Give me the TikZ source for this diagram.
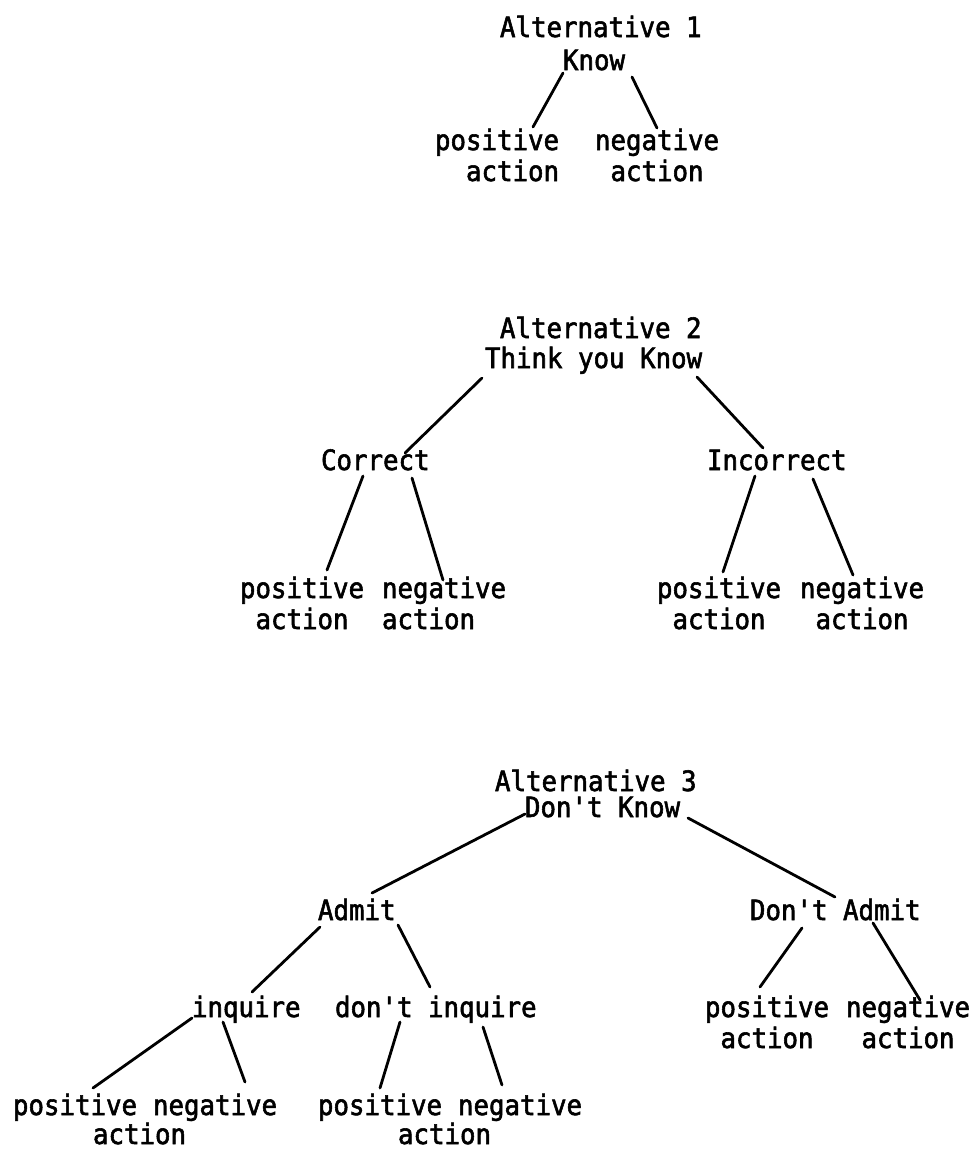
\documentclass[tikz,border=0pt]{standalone}
\usepackage{fontspec}
\newfontfamily\tw[FakeStretch=0.92,FakeBold=2]{DejaVu Sans Mono}
\begin{document}
\begin{tikzpicture}[x=1pt,y=-1pt,
  txt/.style={inner sep=0pt,outer sep=0pt,anchor=base west,align=left,
    font=\tw\fontsize{28}{31}\selectfont},
  edge/.style={line width=2.8pt,line cap=round}]
\useasboundingbox (0,0) rectangle (977,1149);
% ---------- Alternative 1
\node[txt] (alt1) at (500,37) {Alternative 1};
\node[txt] (know) at (563,70) {Know};
% two-line leaves: base anchor is the baseline of the second line
\node[txt] (p1) at (435,181) {positive\\\hphantom{xx}action};
\node[txt] (n1) at (595,181) {negative\\\hphantom{x}action};
\draw[edge] ([shift={(0,3)}]know.base west) -- ([shift={(98,-54)}]p1.base west);
\draw[edge] ([shift={(69,7)}]know.base west) -- ([shift={(62,-53)}]n1.base west);
% ---------- Alternative 2
\node[txt] (alt2) at (500,338) {Alternative 2};
\node[txt] (think) at (485,368) {Think you Know};
\node[txt] (correct) at (321,470) {Correct};
\node[txt] (incorrect) at (707,470) {Incorrect};
\node[txt] (p2c) at (240,629) {positive\\\hphantom{x}action};
\node[txt] (n2c) at (382,629) {negative\\action};
\node[txt] (p2i) at (657,629) {positive\\\hphantom{x}action};
\node[txt] (n2i) at (800,629) {negative\\\hphantom{x}action};
\draw[edge] ([shift={(-3,10)}]think.base west) -- ([shift={(84,-17)}]correct.base west);
\draw[edge] ([shift={(212,9)}]think.base west) -- ([shift={(56,-22)}]incorrect.base west);
\draw[edge] ([shift={(42,6)}]correct.base west) -- ([shift={(87,-59)}]p2c.base west);
\draw[edge] ([shift={(91,8)}]correct.base west) -- ([shift={(61,-49)}]n2c.base west);
\draw[edge] ([shift={(48,6)}]incorrect.base west) -- ([shift={(66,-57)}]p2i.base west);
\draw[edge] ([shift={(106,9)}]incorrect.base west) -- ([shift={(53,-54)}]n2i.base west);
% ---------- Alternative 3
\node[txt] (alt3) at (495,791) {Alternative 3};
\node[txt] (dontknow) at (525,817) {Don't Know};
\node[txt] (admit) at (318,920) {Admit};
\node[txt] (dontadmit) at (750,920) {Don't Admit};
\node[txt] (inquire) at (192,1017) {inquire};
\node[txt] (dontinquire) at (335,1017) {don't inquire};
\node[txt] (p3d) at (705,1048) {positive\\\hphantom{x}action};
\node[txt] (n3d) at (846,1048) {negative\\\hphantom{x}action};
\node[txt] (p3a) at (13,1115) {positive};
\node[txt] (n3a) at (153,1115) {negative};
\node[txt] (act3a) at (93,1144) {action};
\node[txt] (p3b) at (318,1115) {positive};
\node[txt] (n3b) at (458,1115) {negative};
\node[txt] (act3b) at (398,1144) {action};
\draw[edge] ([shift={(0,-3)}]dontknow.base west) -- ([shift={(54,-27)}]admit.base west);
\draw[edge] ([shift={(163,1)}]dontknow.base west) -- ([shift={(85,-23)}]dontadmit.base west);
\draw[edge] ([shift={(2,7)}]admit.base west) -- ([shift={(60,-25)}]inquire.base west);
\draw[edge] ([shift={(80,5)}]admit.base west) -- ([shift={(95,-30)}]dontinquire.base west);
\draw[edge] ([shift={(52,8)}]dontadmit.base west) -- ([shift={(55,-61)}]p3d.base west);
\draw[edge] ([shift={(123,3)}]dontadmit.base west) -- ([shift={(74,-48)}]n3d.base west);
\draw[edge] ([shift={(0,1)}]inquire.base west) -- ([shift={(80,-27)}]p3a.base west);
\draw[edge] ([shift={(31,5)}]inquire.base west) -- ([shift={(92,-33)}]n3a.base west);
\draw[edge] ([shift={(65,5)}]dontinquire.base west) -- ([shift={(62,-27)}]p3b.base west);
\draw[edge] ([shift={(148,10)}]dontinquire.base west) -- ([shift={(44,-30)}]n3b.base west);
\end{tikzpicture}
\end{document}
